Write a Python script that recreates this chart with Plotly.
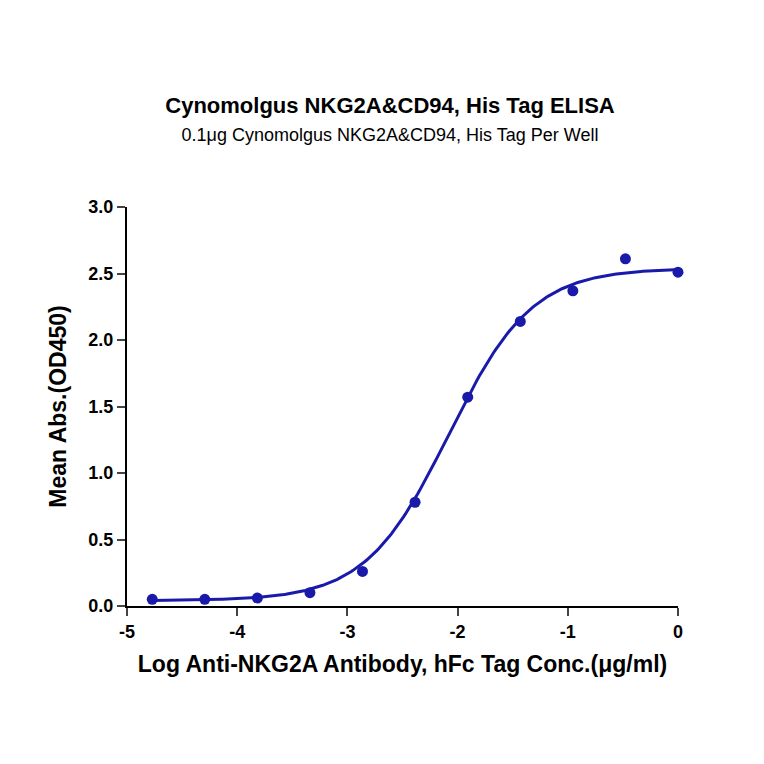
import numpy as np
import plotly.graph_objects as go

# measured points
log_conc = [-4.771, -4.294, -3.817, -3.340, -2.863, -2.386, -1.908, -1.431, -0.954, -0.477, 0.0]
mean_abs = [0.05, 0.05, 0.06, 0.10, 0.26, 0.78, 1.57, 2.14, 2.37, 2.61, 2.51]

# 4PL fit parameters (estimated from the curve)
bottom, top, log_ec50, hill = 0.04, 2.54, -2.08, 1.15

xs = np.linspace(-4.771, 0, 300)
ys = bottom + (top - bottom) / (1 + 10 ** ((log_ec50 - xs) * hill))

blue = "#1a1aaa"
fig = go.Figure()
fig.add_trace(go.Scatter(x=xs, y=ys, mode="lines", line=dict(color=blue, width=3), cliponaxis=False))
fig.add_trace(go.Scatter(x=log_conc, y=mean_abs, mode="markers", cliponaxis=False,
                         marker=dict(color=blue, size=11)))

fig.update_layout(
    width=764, height=764, showlegend=False,
    paper_bgcolor="white", plot_bgcolor="white",
    font=dict(family="Liberation Sans, Arial", color="black"),
    margin=dict(l=119, r=94, t=199, b=166),
    title=dict(text="<b>Cynomolgus NKG2A&CD94, His Tag ELISA</b><br>"
                    "<span style='font-size:18px'>0.1μg Cynomolgus NKG2A&CD94, His Tag Per Well</span>",
               x=0.5, xanchor="center", y=0.863, yanchor="middle", font=dict(size=22)),
)
fig.update_xaxes(range=[-5, 0], tickvals=[-5, -4, -3, -2, -1, 0],
                 ticktext=["<b>-5</b>", "<b>-4</b>", "<b>-3</b>", "<b>-2</b>", "<b>-1</b>", "<b>0</b>"],
                 showline=True, linecolor="black", linewidth=2, ticks="outside", ticklen=8, tickwidth=2,
                 showgrid=False, zeroline=False, tickfont=dict(size=18),
                 title=dict(text="<b>Log Anti-NKG2A Antibody, hFc Tag Conc.(μg/ml)</b>", font=dict(size=23)))
fig.update_yaxes(range=[0, 3], tickvals=[0, 0.5, 1, 1.5, 2, 2.5, 3],
                 ticktext=["<b>0.0</b>", "<b>0.5</b>", "<b>1.0</b>", "<b>1.5</b>", "<b>2.0</b>", "<b>2.5</b>", "<b>3.0</b>"],
                 showline=True, linecolor="black", linewidth=2, ticks="outside", ticklen=8, tickwidth=2,
                 showgrid=False, zeroline=False, tickfont=dict(size=18),
                 title=dict(text="<b>Mean Abs.(OD450)</b>", font=dict(size=23)))

fig.write_html("out.html")
